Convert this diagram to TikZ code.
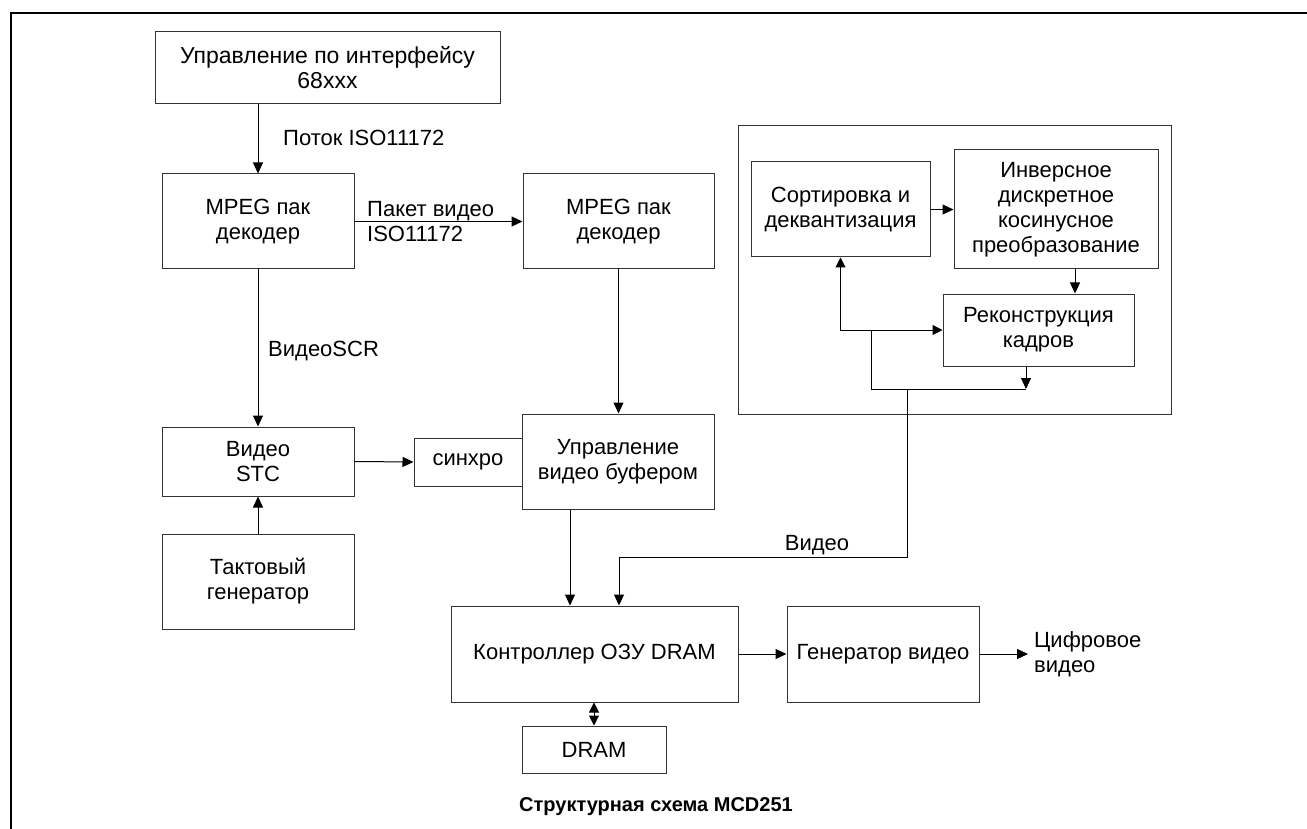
\documentclass[tikz,border=0pt]{standalone}
\usepackage{fontspec}
\setmainfont{Liberation Sans}
\usetikzlibrary{arrows.meta}
\begin{document}
\begin{tikzpicture}[x=1pt,y=-1pt,
  every node/.style={font=\fontsize{22}{25}\selectfont},
  blk/.style={draw=black!80, line width=1pt, inner sep=0pt, align=center},
  arr/.style={-{Triangle[length=11pt,width=10pt]}, line width=1pt},
  darr/.style={{Triangle[length=10pt,width=10pt]}-{Triangle[length=10pt,width=10pt]}, line width=1pt},
  link/.style={line width=1pt},
  lbl/.style={inner sep=0pt, align=left}]
\useasboundingbox (0,0) rectangle (1307,829);
% sheet frame
\draw[line width=2.5pt] (11,829) -- (11,13) -- (1307,13);

% left column
\node[blk, minimum width=345pt, minimum height=72pt, font=\fontsize{23}{25}\selectfont] (iface) at (327.5,68) {Управление по интерфейсу\\68xxx};
\node[blk, minimum width=192pt, minimum height=95pt] (mpegA) at (258,221.5) {MPEG пак\\декодер};
\node[blk, minimum width=192pt, minimum height=69pt] (stc) at (258,461.5) {Видео\\STC};
\node[blk, minimum width=192pt, minimum height=95pt] (clk) at (258,581.5) {Тактовый\\генератор};

% middle column
\node[blk, minimum width=191pt, minimum height=95pt] (mpegB) at (618.5,221.5) {MPEG пак\\декодер};
\node[blk, minimum width=108pt, minimum height=48pt] (sync) at (468,462) {синхро};
\node[blk, minimum width=192pt, minimum height=95pt] (buf) at (618,461.5) {Управление\\видео буфером};
\node[blk, minimum width=287pt, minimum height=96pt] (ctrl) at (594.5,654) {Контроллер ОЗУ DRAM};
\node[blk, minimum width=192pt, minimum height=96pt] (gen) at (883,654) {Генератор видео};
\node[blk, minimum width=144pt, minimum height=47pt] (dram) at (594,749.5) {DRAM};

% video decoding subsystem
\node[blk, minimum width=433pt, minimum height=288pt] (sub) at (954.5,270) {};
\node[blk, minimum width=179pt, minimum height=95pt] (sort) at (840.5,209.5) {Сортировка и\\деквантизация};
\node[blk, minimum width=204pt, minimum height=119pt] (idct) at (1056,209.5) {Инверсное\\дискретное\\косинусное\\преобразование};
\node[blk, minimum width=191pt, minimum height=72pt] (recon) at (1038.5,330) {Реконструкция\\кадров};

% labels
\node[lbl, anchor=west] (lstream) at (283,138) {Поток ISO11172};
\node[lbl, anchor=west] (lpacket) at (367,222) {Пакет видео\\ISO11172};
\node[lbl, anchor=west] (lscr) at (268,351) {ВидеоSCR};
\node[lbl] (lvideo) at (817,545) {Видео};
\node[anchor=west, inner sep=6pt, align=left] (dout) at (1028,654) {Цифровое\\видео};
\node[font=\bfseries\fontsize{20}{24}\selectfont, inner sep=0pt, anchor=west] (title) at (519,807) {Структурная схема MCD251};

% internal bus coordinates
\coordinate (jn) at (871,330);
\coordinate (busL) at (871,389);
\coordinate (busR) at (1026,389);
\coordinate (tap) at (907,389);
\coordinate (vb1) at (907,557);
\coordinate (vb2) at (619,557);

% connectors
\draw[arr] (mpegA.north |- iface.south) -- (mpegA.north);
\draw[arr] (mpegA.east) -- (mpegB.west);
\draw[arr] (mpegA.south) -- (stc.north);
\draw[arr] (clk.north) -- (stc.south);
\draw[arr] (stc.east) -- (sync.west);
\draw[arr] (mpegB.south) -- (mpegB.south |- buf.north);
\draw[arr] ([xshift=-48pt]buf.south) -- ([xshift=-48pt]buf.south |- ctrl.north);
\draw[arr] (ctrl.east) -- (gen.west);
\draw[arr] (gen.east) -- (dout.west);
\draw[darr] (ctrl.south -| dram.north) -- (dram.north);

\draw[arr] (sort.east) -- (sort.east -| idct.west);
\draw[arr] ([xshift=19pt]idct.south) -- ([xshift=19pt]idct.south |- recon.north);
\draw[darr] (sort.south) |- (recon.west);
\draw[link] (jn) -- (busL) -- (busR);
\draw[arr] ([xshift=-12.5pt]recon.south) -- (busR);
\draw[arr] (tap) -- (vb1) -- (vb2) -- (vb2 |- ctrl.north);
\end{tikzpicture}
\end{document}
